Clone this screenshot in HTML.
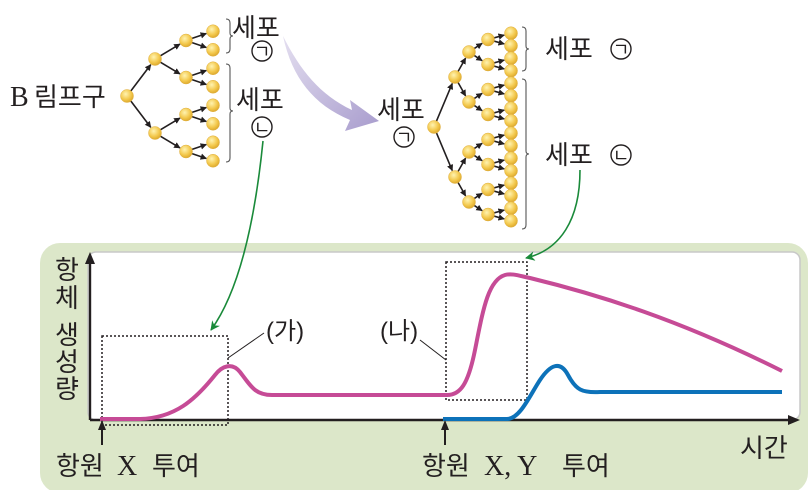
<!DOCTYPE html>
<html><head><meta charset="utf-8"><style>
body{margin:0;width:810px;height:490px;background:#fff;overflow:hidden}
svg{display:block}
text{font-family:"Liberation Sans","Noto Sans CJK KR",sans-serif;fill:#231f20}
text.serif{font-family:"Liberation Serif",serif}
</style></head><body>
<svg id="s" width="810" height="490" viewBox="0 0 810 490" xmlns="http://www.w3.org/2000/svg">
<defs>
<marker id="ah" viewBox="0 0 10 10" refX="9" refY="5" markerWidth="4" markerHeight="4" orient="auto"><path d="M0,0 L10,5 L0,10 z" fill="#231f20"/></marker>
<marker id="gh" viewBox="0 0 10 10" refX="9" refY="5" markerWidth="6" markerHeight="6" orient="auto"><path d="M0,0 L10,5 L0,10 L3,5 z" fill="#1a8a3a"/></marker>
<radialGradient id="ball" cx="0.4" cy="0.35" r="0.7"><stop offset="0" stop-color="#fff3b0"/><stop offset="0.6" stop-color="#f3c84c"/><stop offset="1" stop-color="#d9a42a"/></radialGradient>
<linearGradient id="pg" x1="0" y1="0" x2="1" y2="1"><stop offset="0" stop-color="#e4dff0"/><stop offset="1" stop-color="#a89ccd"/></linearGradient>
</defs>
<rect x="40" y="243" width="768" height="250" rx="20" fill="#dce7c9"/>
<rect x="88" y="252" width="712" height="168" rx="8" fill="#fff" stroke="#c8c8c8" stroke-width="1.5"/>
<g id="tree"></g>
<path d="M283,36 C300,70 320,95 352,110 L350,100 L379,121 L345,131 L350,120 C314,105 292,78 283,36 z" fill="url(#pg)"/>
<path d="M263,141 C255,220 240,290 211,330" fill="none" stroke="#1a8a3a" stroke-width="1.6" marker-end="url(#gh)"/>
<path d="M580,170 C580,220 560,250 526,258" fill="none" stroke="#1a8a3a" stroke-width="1.6" marker-end="url(#gh)"/>
<text x="10" y="106" font-size="28" class="serif">B</text>
<text x="34" y="106" font-size="26">림프구</text>
<text x="232" y="37" font-size="26">세포</text>
<circle cx="262" cy="51" r="10" fill="none" stroke="#231f20" stroke-width="1.4"/><text x="262" y="58" font-size="18" text-anchor="middle">ㄱ</text>
<text x="236" y="109" font-size="26">세포</text>
<circle cx="262" cy="127" r="10" fill="none" stroke="#231f20" stroke-width="1.4"/><text x="262" y="134" font-size="18" text-anchor="middle">ㄴ</text>
<text x="377" y="119" font-size="26">세포</text>
<circle cx="404" cy="137" r="10" fill="none" stroke="#231f20" stroke-width="1.4"/><text x="404" y="144" font-size="18" text-anchor="middle">ㄱ</text>
<text x="545" y="58" font-size="26">세포</text>
<circle cx="621" cy="49" r="10" fill="none" stroke="#231f20" stroke-width="1.4"/><text x="621" y="56" font-size="18" text-anchor="middle">ㄱ</text>
<text x="545" y="164" font-size="26">세포</text>
<circle cx="621" cy="155" r="10" fill="none" stroke="#231f20" stroke-width="1.4"/><text x="621" y="162" font-size="18" text-anchor="middle">ㄴ</text>
<path d="M226,19 q4,0 4,4 v10 q0,3 3,3 q-3,0 -3,3 v10 q0,4 -4,4" fill="none" stroke="#555" stroke-width="1.1"/>
<path d="M226,64 q4,0 4,4 v40 q0,3 3,3 q-3,0 -3,3 v44 q0,4 -4,4" fill="none" stroke="#555" stroke-width="1.1"/>
<path d="M522,27 q4,0 4,4 v15 q0,3 3,3 q-3,0 -3,3 v15 q0,4 -4,4" fill="none" stroke="#555" stroke-width="1.1"/>
<path d="M522,79 q4,0 4,4 v68 q0,3 3,3 q-3,0 -3,3 v68 q0,4 -4,4" fill="none" stroke="#555" stroke-width="1.1"/>
<line x1="90" y1="420" x2="90" y2="262" stroke="#231f20" stroke-width="2.4"/>
<path d="M85,264 L90,252 L95,264 z" fill="#231f20"/>
<line x1="90" y1="420" x2="790" y2="420" stroke="#231f20" stroke-width="2.4"/>
<path d="M788,415 L800,420 L788,425 z" fill="#231f20"/>
<rect x="102" y="336" width="126" height="89" fill="none" stroke="#231f20" stroke-width="1.5" stroke-dasharray="2,2"/>
<rect x="446" y="262" width="81" height="138" fill="none" stroke="#231f20" stroke-width="1.5" stroke-dasharray="2,2"/>
<path d="M100,419 L140,419 C175,418 195,400 215,375 C222,366 232,362 240,372 C252,388 256,395 272,395 L447,395 C460,395 468,385 475,350 C483,310 488,280 505,275 C512,273 520,276 530,278 C600,295 680,320 782,371" fill="none" stroke="#c64b96" stroke-width="4"/>
<path d="M443,419 L507,419 C520,419 530,395 540,380 C550,365 560,360 568,375 C576,390 582,393 600,392 L782,392" fill="none" stroke="#0d72b9" stroke-width="4"/>
<line x1="228" y1="358" x2="264" y2="333" stroke="#231f20" stroke-width="1"/>
<line x1="420" y1="340" x2="446" y2="360" stroke="#231f20" stroke-width="1"/>
<text x="266" y="339" font-size="24">(가)</text>
<text x="380" y="339" font-size="24">(나)</text>
<g font-size="26" text-anchor="middle"><text x="67" y="279">항</text><text x="67" y="307">체</text><text x="67" y="344">생</text><text x="67" y="371">성</text><text x="67" y="398">량</text></g>
<line x1="102" y1="445" x2="102" y2="428" stroke="#231f20" stroke-width="2"/><path d="M98,430 L102,420 L106,430 z" fill="#231f20"/>
<line x1="445" y1="445" x2="445" y2="428" stroke="#231f20" stroke-width="2"/><path d="M441,430 L445,420 L449,430 z" fill="#231f20"/>
<text x="56" y="475" font-size="26">항원</text><text x="117" y="475" font-size="28" class="serif">X</text><text x="152" y="475" font-size="26">투여</text>
<text x="422" y="475" font-size="26">항원</text><text x="484" y="475" font-size="28" class="serif">X, Y</text><text x="562" y="475" font-size="26">투여</text>
<text x="740" y="457" font-size="26">시간</text>
</svg>
<script>
var g=document.getElementById('tree'),ns="http://www.w3.org/2000/svg";
function ln(a,b){var dx=b[0]-a[0],dy=b[1]-a[1],d=Math.hypot(dx,dy),r=6;var l=document.createElementNS(ns,'line');
l.setAttribute('x1',a[0]+dx/d*r);l.setAttribute('y1',a[1]+dy/d*r);l.setAttribute('x2',b[0]-dx/d*(r+1));l.setAttribute('y2',b[1]-dy/d*(r+1));
l.setAttribute('stroke','#231f20');l.setAttribute('stroke-width','1.6');l.setAttribute('marker-end','url(#ah)');g.appendChild(l);}
var balls=[];
function build(x,y,xs,sp,depth){balls.push([x,y,depth]);if(!xs.length)return;var nx=xs[0];
[y-sp,y+sp].forEach(function(cy){ln([x,y],[nx,cy]);build(nx,cy,xs.slice(1),sp/2,depth+1);});}
build(127,96,[155,186,213],37,0);
build(434,127,[455,469,488,511],50,0);
balls.forEach(function(b){var c=document.createElementNS(ns,'circle');c.setAttribute('cx',b[0]);c.setAttribute('cy',b[1]);c.setAttribute('r',6.5);c.setAttribute('fill','url(#ball)');c.setAttribute('stroke','#e0b040');c.setAttribute('stroke-width','0.5');g.appendChild(c);});
</script>
</body></html>
